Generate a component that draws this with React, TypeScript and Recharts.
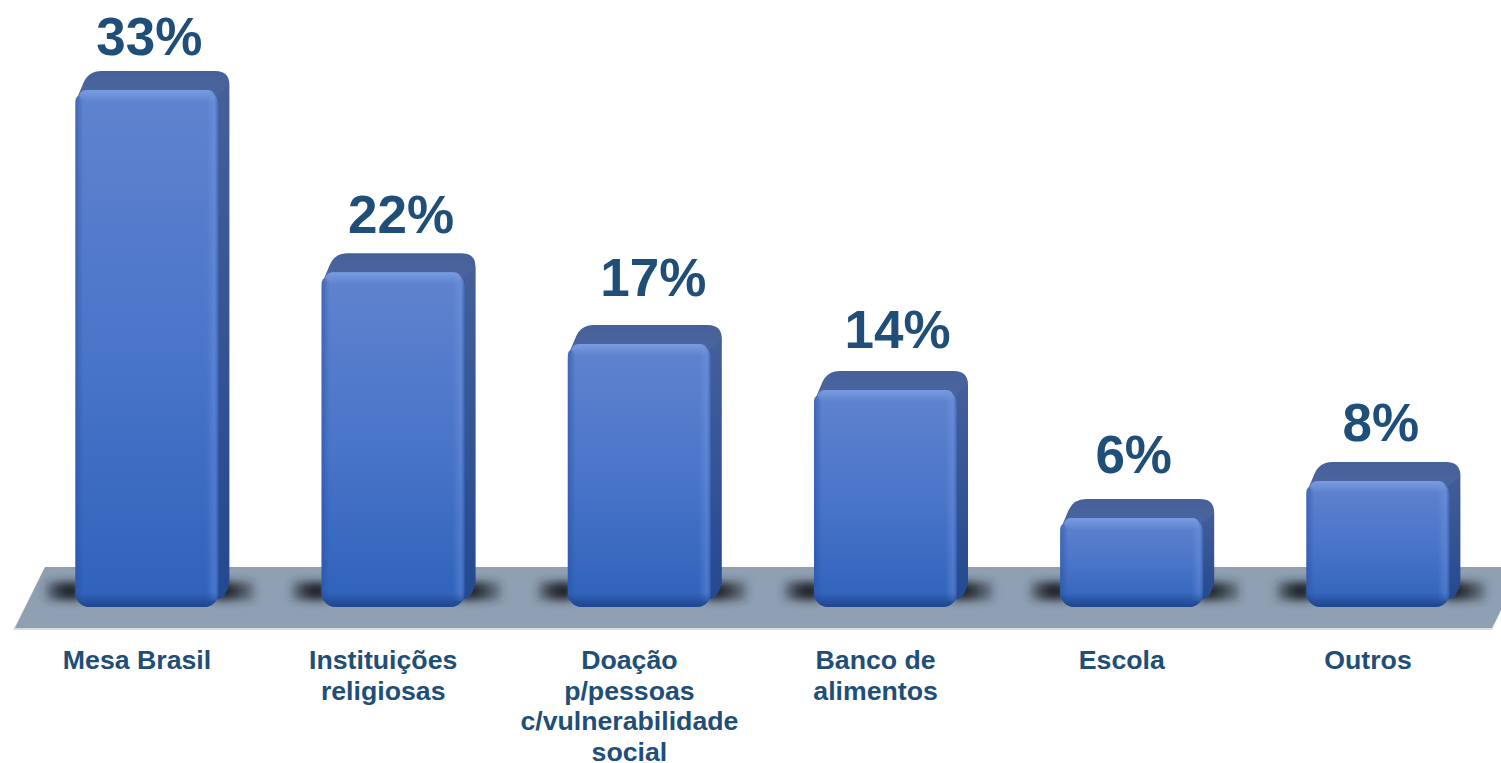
import { Bar, BarChart, LabelList, XAxis, YAxis } from "recharts";

const categories = [
  ["Mesa Brasil"],
  ["Instituições", "religiosas"],
  ["Doação", "p/pessoas", "c/vulnerabilidade", "social"],
  ["Banco de", "alimentos"],
  ["Escola"],
  ["Outros"],
];
// the labels show them rounded
const shares = [33.35, 21.6, 16.97, 14, 5.74, 8.13];

const chartData = categories.map((lines, i) => ({
  name: lines.join(" "),
  share: shares[i],
}));
const linesByName: Record<string, string[]> = Object.fromEntries(
  categories.map((lines) => [lines.join(" "), lines])
);

const labelNudge = [
  [2.5, -35],
  [8, -39],
  [14, -48],
  [12, -42],
  [2, -45],
  [3, -40],
];

const TEXT = "#1F4E79";
const FONT = "'Liberation Sans', Arial, sans-serif";
const DEPTH_X = 11;
const DEPTH_Y = 19;
const R = 14;

function BlockBar({ x, y, width, height }: any) {
  const right = x + width;
  const bottom = y + height;
  const backRight = right + DEPTH_X;
  const backTop = y - DEPTH_Y;
  const side = `M${right - 10} ${y + 10} L${right - 6} ${backTop + 2} L${backRight} ${backTop + 14} L${backRight} ${bottom - 26} Q${backRight} ${bottom - 20} ${right + 5} ${bottom - 10} L${right - 10} ${bottom - 4} Z`;
  const top = `M${x} ${y + 12} L${x + 8} ${backTop + 12} Q${x + 13} ${backTop} ${x + 26} ${backTop} L${backRight - 14} ${backTop} Q${backRight} ${backTop} ${backRight} ${backTop + 14} L${right - 10} ${y + 12} Z`;
  const lip = `M${x} ${bottom - R} A${R} ${R} 0 0 0 ${x + R} ${bottom} H${right - R} A${R} ${R} 0 0 0 ${right} ${bottom - R} Z`;
  return (
    <g>
      <rect x={x - 30} y={bottom - 25} width={36} height={18} fill="url(#shadowLeft)" filter="url(#floorBlur)" />
      <rect x={right - 6} y={bottom - 25} width={42} height={18} fill="url(#shadowRight)" filter="url(#floorBlur)" />
      <path d={side} fill="url(#sideFill)" />
      <path d={top} fill="url(#topFill)" />
      <rect x={x} y={y} width={width} height={height} rx={R} fill="url(#frontFill)" />
      <rect x={x} y={y + 6} width={8} height={height - 12} rx={4} fill="url(#leftEdge)" />
      <rect x={right - 12} y={y + 6} width={12} height={height - 12} rx={4} fill="url(#rightEdge)" />
      <rect x={x + 4} y={y} width={width - 8} height={12} rx={6} fill="url(#topEdge)" />
      <path d={lip} fill="url(#bottomEdge)" />
    </g>
  );
}

function CategoryTick({ x, y, payload }: any) {
  const lines = linesByName[payload.value] ?? [payload.value];
  return (
    <text x={x - 9.5} y={y + 54} textAnchor="middle" fill={TEXT} fontFamily={FONT} fontWeight={700} fontSize={26.7}>
      {lines.map((line, i) => (
        <tspan key={line} x={x - 9.5} dy={i === 0 ? 0 : 30.6}>
          {line}
        </tspan>
      ))}
    </text>
  );
}

function ShareLabel({ x, y, width, value, index }: any) {
  const [dx, dy] = labelNudge[index];
  return (
    <text x={x + width / 2 + dx} y={y + dy} textAnchor="middle" fill={TEXT} fontFamily={FONT} fontWeight={700} fontSize={53}>
      {Math.round(value)}%
    </text>
  );
}

export default function App() {
  return (
    <div style={{ position: "absolute", left: 0, top: 0, width: 1501, height: 763, overflow: "hidden", background: "#fff" }}>
      <BarChart
        width={1501}
        height={763}
        data={chartData}
        margin={{ top: 2.5, right: 0.4, bottom: 155, left: 23.4 }}
        barCategoryGap={0}
      >
        <defs>
          <linearGradient id="frontFill" x1="0" y1="0" x2="0" y2="1">
            <stop offset="0" stopColor="#6083ce" />
            <stop offset="0.5" stopColor="#4a75c9" />
            <stop offset="1" stopColor="#2f62bb" />
          </linearGradient>
          <linearGradient id="topFill" x1="0" y1="0" x2="0" y2="1">
            <stop offset="0" stopColor="#46609a" />
            <stop offset="1" stopColor="#4d669f" />
          </linearGradient>
          <linearGradient id="sideFill" x1="0" y1="0" x2="0" y2="1">
            <stop offset="0" stopColor="#46609a" />
            <stop offset="1" stopColor="#24498f" />
          </linearGradient>
          <linearGradient id="leftEdge" x1="0" y1="0" x2="1" y2="0">
            <stop offset="0" stopColor="#27509f" stopOpacity={0.55} />
            <stop offset="1" stopColor="#27509f" stopOpacity={0} />
          </linearGradient>
          <linearGradient id="rightEdge" x1="0" y1="0" x2="1" y2="0">
            <stop offset="0" stopColor="#7fa2e6" stopOpacity={0} />
            <stop offset="0.65" stopColor="#7fa2e6" stopOpacity={0.3} />
            <stop offset="1" stopColor="#27509f" stopOpacity={0.6} />
          </linearGradient>
          <linearGradient id="topEdge" x1="0" y1="0" x2="0" y2="1">
            <stop offset="0" stopColor="#7ea0e4" stopOpacity={0.85} />
            <stop offset="1" stopColor="#7ea0e4" stopOpacity={0} />
          </linearGradient>
          <linearGradient id="bottomEdge" x1="0" y1="0" x2="0" y2="1">
            <stop offset="0" stopColor="#1f4389" stopOpacity={0} />
            <stop offset="1" stopColor="#1f4389" stopOpacity={0.95} />
          </linearGradient>
          <linearGradient id="shadowLeft" x1="0" y1="0" x2="1" y2="0">
            <stop offset="0" stopColor="#23282e" stopOpacity={0.3} />
            <stop offset="0.5" stopColor="#23282e" stopOpacity={1} />
          </linearGradient>
          <linearGradient id="shadowRight" x1="0" y1="0" x2="1" y2="0">
            <stop offset="0.4" stopColor="#23282e" stopOpacity={1} />
            <stop offset="1" stopColor="#23282e" stopOpacity={0.3} />
          </linearGradient>
          <filter id="floorBlur" x="-50%" y="-80%" width="200%" height="260%">
            <feGaussianBlur stdDeviation="4.5" />
          </filter>
        </defs>
        <polygon points="13,630 1492,630 1501,611 1501,567 45,567" fill="#d9dde2" />
        <polygon points="15,628 1492,628 1501,610 1501,567 45,567" fill="#8fa0b3" />
        <XAxis dataKey="name" interval={0} axisLine={false} tickLine={false} tick={<CategoryTick />} height={1} />
        <YAxis hide domain={[0, 39]} />
        <Bar dataKey="share" barSize={143} shape={<BlockBar />} isAnimationActive={false}>
          <LabelList dataKey="share" content={<ShareLabel />} />
        </Bar>
      </BarChart>
    </div>
  );
}
